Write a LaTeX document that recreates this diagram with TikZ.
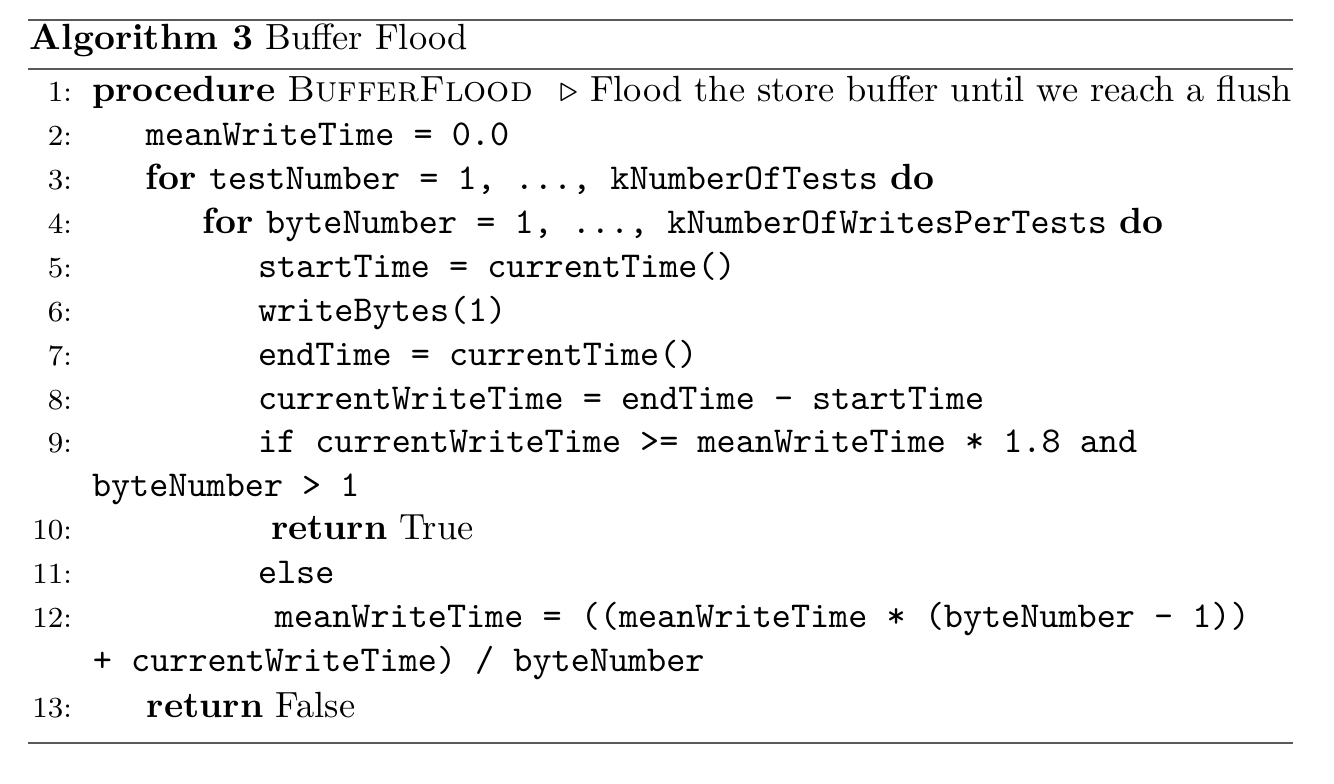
\documentclass[tikz,border=0pt]{standalone}
\usetikzlibrary{positioning}

\begin{document}
\begin{tikzpicture}[x=0.2747pt,y=-0.2747pt,every node/.style={inner sep=0pt,outer sep=0pt},
	codeline/.style={anchor=base west},
	linenum/.style={anchor=base east,font=\footnotesize},
	thickrule/.style={line width=0.8pt,draw=black!65},
	thinrule/.style={line width=0.5pt,draw=black!65}]
	\useasboundingbox (0,0) rectangle (1334,784);
	% rules
	\draw[thickrule] (28,20) -- (1293,20);
	\draw[thinrule] (28,69) -- (1293,69);
	\draw[thickrule] (28,743) -- (1293,743);
	\node[codeline] (title) at (30,50) {\textbf{Algorithm 3} Buffer Flood};
	% line numbers
	\foreach \n/\y in {1/102,2/146,3/190,4/234,5/278,6/322,7/366,8/410,9/453,10/540,11/584,12/628,13/718}
		\node[linenum] (n\n) at (72,\y) {\n:};
	\node[codeline] (proc) at (92,102) {\textbf{procedure} \textsc{BufferFlood}};
	\node[anchor=base east] (comment) at (1292,102) {$\triangleright$ Flood the store buffer until we reach a flush};
	\node[codeline] (init) at (146,146) {\texttt{meanWriteTime = 0.0}};
	\node[codeline] (outer) at (146,190) {\textbf{for} \texttt{testNumber = 1, ..., kNumberOfTests} \textbf{do}};
	\node[codeline] (inner) at (203,234) {\textbf{for} \texttt{byteNumber = 1, ..., kNumberOfWritesPerTests} \textbf{do}};
	\node[codeline] (start) at (258,278) {\texttt{startTime = currentTime()}};
	\node[codeline] (write) at (258,322) {\texttt{writeBytes(1)}};
	\node[codeline] (end) at (258,366) {\texttt{endTime = currentTime()}};
	\node[codeline] (diff) at (258,410) {\texttt{currentWriteTime = endTime - startTime}};
	\node[codeline] (test) at (258,453) {\texttt{if currentWriteTime >= meanWriteTime * 1.8 and}};
	\node[codeline] (testb) at (92,497) {\texttt{byteNumber > 1}};
	\node[codeline] (rtrue) at (271,540) {\textbf{return} True};
	\node[codeline] (else) at (258,584) {\texttt{else}};
	\node[codeline] (mean) at (275,628) {\texttt{meanWriteTime = ((meanWriteTime * (byteNumber - 1))}};
	\node[codeline] (meanb) at (93,672) {\texttt{+ currentWriteTime) / byteNumber}};
	\node[codeline] (rfalse) at (147,718) {\textbf{return} False};
\end{tikzpicture}
\end{document}
